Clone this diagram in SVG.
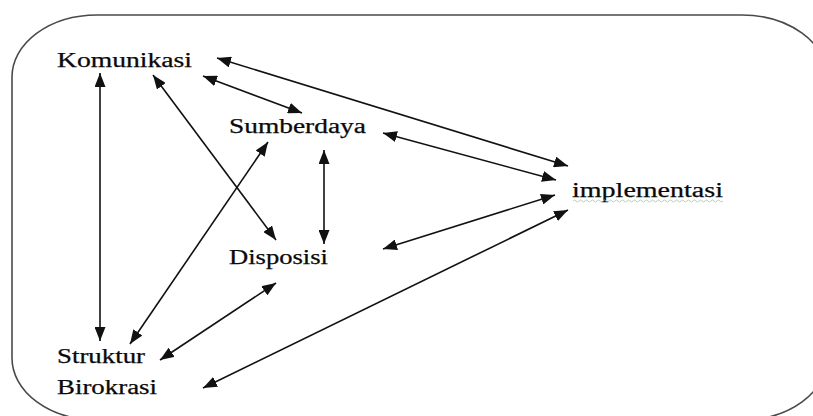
<svg xmlns="http://www.w3.org/2000/svg" width="813" height="416" viewBox="0 0 813 416">
<style>
.lbl{font-family:"Liberation Serif","Times New Roman",serif;font-size:20px;fill:#0a0a0a;stroke:#0a0a0a;stroke-width:0.25}
.con line{stroke:#111;stroke-width:1.6;fill:none;marker-start:url(#ah);marker-end:url(#ah)}
</style>
<defs>
<marker id="ah" markerUnits="userSpaceOnUse" markerWidth="15" markerHeight="11" refX="14" refY="5.5" orient="auto-start-reverse">
<path d="M0,0 L14,5.5 L0,11 z" fill="#111"/>
</marker>
</defs>
<rect width="813" height="416" fill="#fff"/>
<g id="frame"><rect x="12" y="15" width="815" height="405" rx="85" ry="62" fill="none" stroke="#4a4a4a" stroke-width="1.6"/></g>
<g id="komunikasi"><text class="lbl" x="57" y="67" textLength="135" lengthAdjust="spacingAndGlyphs">Komunikasi</text></g>
<g id="sumberdaya"><text class="lbl" x="229" y="133" textLength="137" lengthAdjust="spacingAndGlyphs">Sumberdaya</text></g>
<g id="implementasi"><text class="lbl" x="572" y="197" textLength="151" lengthAdjust="spacingAndGlyphs">implementasi</text>
<path d="M573,201 q1.5,-2 3,0 t3,0 t3,0 t3,0 t3,0 t3,0 t3,0 t3,0 t3,0 t3,0 t3,0 t3,0 t3,0 t3,0 t3,0 t3,0 t3,0 t3,0 t3,0 t3,0 t3,0 t3,0 t3,0 t3,0 t3,0 t3,0 t3,0 t3,0 t3,0 t3,0 t3,0 t3,0 t3,0 t3,0 t3,0 t3,0 t3,0 t3,0 t3,0 t3,0 t3,0 t3,0 t3,0 t3,0 t3,0 t3,0 t3,0 t3,0 t3,0 t3,0" fill="none" stroke="#9c9" stroke-width="0.8"/></g>
<g id="disposisi"><text class="lbl" x="229" y="264" textLength="99" lengthAdjust="spacingAndGlyphs">Disposisi</text></g>
<g id="struktur-birokrasi">
<text class="lbl" x="57" y="363" textLength="88" lengthAdjust="spacingAndGlyphs">Struktur</text>
<text class="lbl" x="57" y="394" textLength="100" lengthAdjust="spacingAndGlyphs">Birokrasi</text>
</g>
<g class="con" id="connectors">
<line x1="217" y1="58" x2="568" y2="166"/>
<line x1="383" y1="133" x2="556" y2="180"/>
<line x1="383" y1="249" x2="555" y2="195"/>
<line x1="203" y1="388" x2="568" y2="210"/>
<line x1="203" y1="76" x2="302" y2="113"/>
<line x1="153" y1="75" x2="276" y2="240"/>
<line x1="100" y1="73" x2="100" y2="341"/>
<line x1="324" y1="150" x2="324" y2="244"/>
<line x1="268" y1="142" x2="130" y2="344"/>
<line x1="276" y1="283" x2="160" y2="360"/>
</g>
</svg>
